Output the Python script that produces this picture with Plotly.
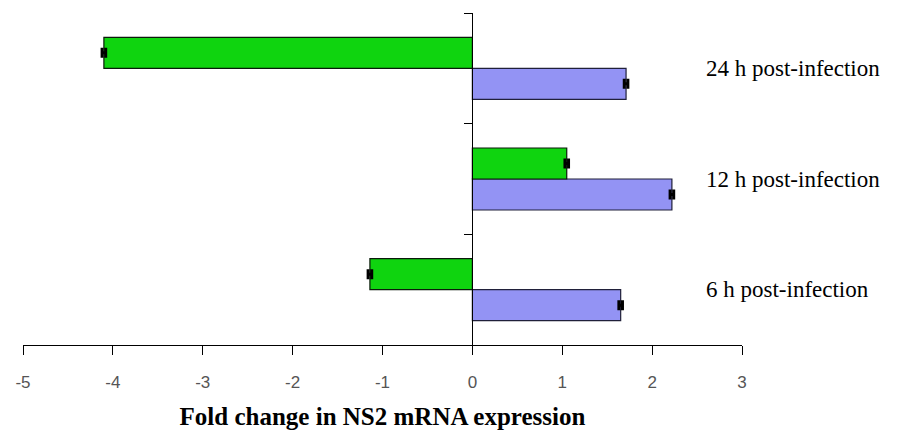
import plotly.graph_objects as go

categories = ["6 h", "12 h", "24 h"]
row_labels = ["6 h post-infection", "12 h post-infection", "24 h post-infection"]
green_values = [-1.14, 1.05, -4.10]
blue_values = [1.65, 2.22, 1.71]
green_err = [0.02, 0.02, 0.02]
blue_err = [0.02, 0.02, 0.02]
x_ticks = [-5, -4, -3, -2, -1, 0, 1, 2, 3]

fig = go.Figure()
fig.add_trace(go.Bar(
    y=categories, x=blue_values, orientation="h", name="blue",
    marker=dict(color="#9393f4", line=dict(color="#20203a", width=1.2)),
    error_x=dict(type="data", array=blue_err, color="black", thickness=3, width=5),
))
fig.add_trace(go.Bar(
    y=categories, x=green_values, orientation="h", name="green",
    marker=dict(color="#0fd40f", line=dict(color="#0a1a0a", width=1.2)),
    error_x=dict(type="data", array=green_err, color="black", thickness=3, width=5),
))

for cat, lab in zip(categories, row_labels):
    fig.add_annotation(
        x=0.947, xref="paper", y=cat, yref="y", text=lab, showarrow=False,
        xanchor="left", yanchor="middle",
        font=dict(family="Liberation Serif", size=23, color="black"),
    )

fig.update_layout(
    width=900, height=434,
    margin=dict(l=23, r=158, t=13, b=89),
    paper_bgcolor="white", plot_bgcolor="white",
    barmode="group", bargap=0.44, bargroupgap=0,
    showlegend=False,
    xaxis=dict(
        range=[-5, 3], tickvals=x_ticks, ticktext=[str(v) for v in x_ticks],
        showgrid=False, zeroline=False, showline=True, linecolor="black", linewidth=1.2,
        ticks="outside", ticklen=9, tickcolor="black", tickwidth=1,
        ticklabelstandoff=12, automargin=False,
        tickfont=dict(family="Liberation Sans", size=17, color="#555555"),
        title=dict(text="<b>Fold change in NS2 mRNA expression</b>",
                   font=dict(family="Liberation Serif", size=25, color="black"),
                   standoff=16),
    ),
    yaxis=dict(
        categoryorder="array", categoryarray=categories,
        anchor="free", position=0.625,
        showgrid=False, zeroline=False, showline=True, linecolor="black", linewidth=1.2,
        ticks="outside", tickson="boundaries", ticklen=8, tickcolor="black",
        showticklabels=False, range=[-0.5, 2.5],
    ),
)

fig.write_html("out.html")
